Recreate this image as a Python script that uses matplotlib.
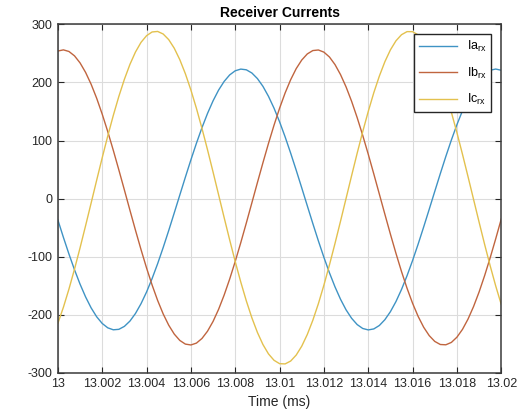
import matplotlib
matplotlib.use("Agg")
import matplotlib.pyplot as plt

plt.rcParams['font.family'] = ['Liberation Sans', 'DejaVu Sans']
plt.rcParams['mathtext.default'] = 'regular'
plt.rcParams['axes.unicode_minus'] = False

# time axis (ms), read every 0.00025 ms
t_ms = [13.00000, 13.00025, 13.00050, 13.00075, 13.00100, 13.00125, 13.00150, 13.00175,
        13.00200, 13.00225, 13.00250, 13.00275, 13.00300, 13.00325, 13.00350, 13.00375,
        13.00400, 13.00425, 13.00450, 13.00475, 13.00500, 13.00525, 13.00550, 13.00575,
        13.00600, 13.00625, 13.00650, 13.00675, 13.00700, 13.00725, 13.00750, 13.00775,
        13.00800, 13.00825, 13.00850, 13.00875, 13.00900, 13.00925, 13.00950, 13.00975,
        13.01000, 13.01025, 13.01050, 13.01075, 13.01100, 13.01125, 13.01150, 13.01175,
        13.01200, 13.01225, 13.01250, 13.01275, 13.01300, 13.01325, 13.01350, 13.01375,
        13.01400, 13.01425, 13.01450, 13.01475, 13.01500, 13.01525, 13.01550, 13.01575,
        13.01600, 13.01625, 13.01650, 13.01675, 13.01700, 13.01725, 13.01750, 13.01775,
        13.01800, 13.01825, 13.01850, 13.01875, 13.01900, 13.01925, 13.01950, 13.01975,
        13.02000]

ia_rx = [-36.8, -66.8, -95.5, -122.5, -147.2, -169.2, -188.1, -203.4,
         -214.9, -222.4, -225.8, -225.0, -219.9, -210.8, -197.7, -180.9,
         -160.8, -137.6, -112.0, -84.2, -54.9, -24.5, 6.2, 36.8,
         66.7, 95.3, 122.1, 146.6, 168.3, 186.8, 201.7, 212.9,
         220.0, 222.9, 221.7, 216.2, 206.6, 193.2, 176.0, 155.6,
         132.2, 106.3, 78.3, 48.9, 18.5, -12.3, -42.9, -72.7,
         -101.1, -127.7, -151.9, -173.3, -191.5, -206.0, -216.8, -223.5,
         -226.0, -224.3, -218.4, -208.4, -194.6, -177.2, -156.4, -132.7,
         -106.5, -78.4, -48.8, -18.4, 12.4, 42.9, 72.6, 100.9,
         127.3, 151.2, 172.3, 190.1, 204.3, 214.6, 220.9, 223.0,
         220.9]

ib_rx = [254.0, 256.0, 253.2, 245.7, 233.6, 217.2, 196.8, 172.7,
         145.3, 115.3, 83.1, 49.4, 14.9, -20.0, -54.4, -87.7,
         -119.4, -148.7, -175.3, -198.5, -217.9, -233.2, -244.1, -250.4,
         -251.9, -248.7, -240.7, -228.2, -211.4, -190.5, -166.0, -138.4,
         -108.1, -75.8, -42.0, -7.3, 27.5, 61.8, 95.0, 126.4,
         155.5, 181.8, 204.6, 223.7, 238.5, 249.0, 254.8, 255.8,
         252.1, 243.7, 230.7, 213.4, 192.2, 167.4, 139.4, 108.9,
         76.4, 42.5, 7.8, -26.9, -61.2, -94.2, -125.5, -154.3,
         -180.2, -202.7, -221.4, -235.8, -245.8, -251.1, -251.6, -247.5,
         -238.5, -225.1, -207.4, -185.8, -160.7, -132.5, -101.8, -69.1,
         -35.1]

ic_rx = [-214.6, -186.9, -155.6, -121.4, -84.8, -46.6, -7.6, 31.7,
         70.4, 107.8, 143.2, 175.9, 205.3, 231.0, 252.3, 268.9,
         280.4, 286.8, 287.7, 283.3, 273.6, 258.8, 239.1, 215.0,
         186.9, 155.3, 120.8, 84.0, 45.7, 6.5, -32.7, -71.2,
         -108.5, -143.6, -176.0, -205.1, -230.3, -251.2, -267.3, -278.3,
         -284.1, -284.5, -279.6, -269.3, -254.0, -233.9, -209.4, -180.9,
         -148.9, -114.1, -77.2, -38.8, 0.4, 39.6, 78.1, 115.1,
         150.0, 182.2, 210.8, 235.6, 256.0, 271.6, 282.1, 287.4,
         287.3, 281.8, 271.0, 255.2, 234.6, 209.6, 180.7, 148.5,
         113.5, 76.4, 37.9, -1.3, -40.5, -78.9, -115.7, -150.4,
         -182.2]

series_labels = [r'Ia$_{rx}$', r'Ib$_{rx}$', r'Ic$_{rx}$']
line_colors = ['#3f93c4', '#c0653f', '#e3c14e']

x_ticks = [13.0, 13.002, 13.004, 13.006, 13.008, 13.01, 13.012, 13.014, 13.016, 13.018, 13.02]
x_ticklabels = ['13', '13.002', '13.004', '13.006', '13.008', '13.01',
                '13.012', '13.014', '13.016', '13.018', '13.02']
y_ticks = [-300, -200, -100, 0, 100, 200, 300]

fig = plt.figure(figsize=(5.31, 4.19), dpi=100)
ax = fig.add_axes([0.109, 0.110, 0.835, 0.832])

for ys, lab, col in zip([ia_rx, ib_rx, ic_rx], series_labels, line_colors):
    ax.plot(t_ms, ys, color=col, lw=1.0, label=lab)

ax.set_xlim(13.0, 13.02)
ax.set_ylim(-300, 300)
ax.set_xticks(x_ticks)
ax.set_xticklabels(x_ticklabels)
ax.set_yticks(y_ticks)
ax.grid(True, color='#dcdcdc', lw=0.8)
ax.set_axisbelow(True)

ax.tick_params(direction='in', top=True, right=True, length=4, width=0.8,
               colors='#262626', labelsize=9, pad=4)
for sp in ax.spines.values():
    sp.set_color('#3a3a3a')
    sp.set_linewidth(1.1)

ax.set_title('Receiver Currents', fontsize=10, fontweight='bold', pad=5)
ax.set_xlabel('Time (ms)', fontsize=10, color='#262626', labelpad=3)

leg = ax.legend(loc='upper right', fontsize=9, frameon=True, fancybox=False,
                edgecolor='#262626', framealpha=1, handlelength=3.0,
                borderaxespad=0.8, labelspacing=0.9)
leg.get_frame().set_linewidth(1.0)

fig.savefig('out.png', dpi=100)
